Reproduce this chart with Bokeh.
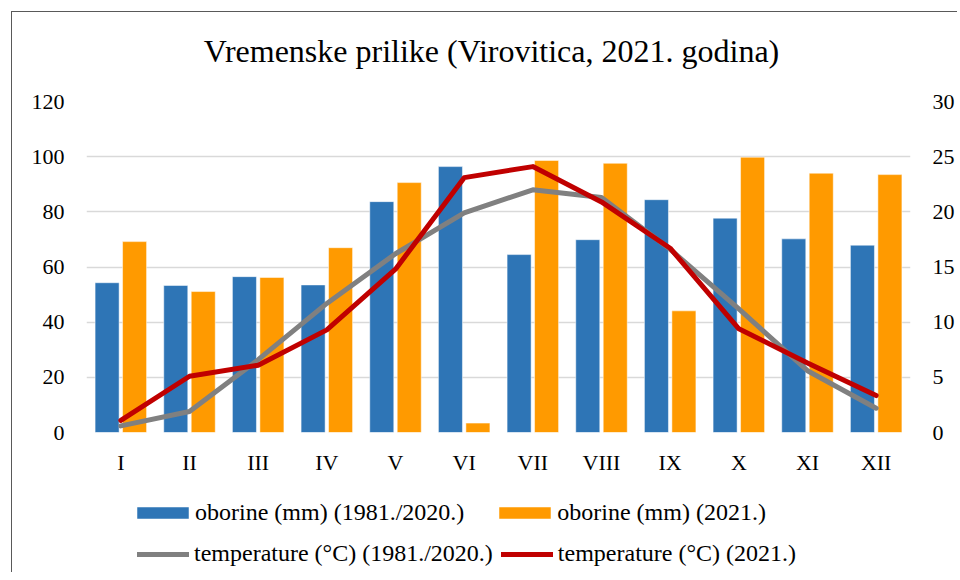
from bokeh.plotting import figure
from bokeh.models import Range1d, LinearAxis, FactorRange, Legend, LegendItem, FixedTicker, ColumnDataSource, Label
from bokeh.transform import dodge
from bokeh.layouts import column
from bokeh.embed import file_html
from bokeh.resources import INLINE

title_text = "Vremenske prilike (Virovitica, 2021. godina)"
months = ["I", "II", "III", "IV", "V", "VI", "VII", "VIII", "IX", "X", "XI", "XII"]
rain_norm = [54.3, 53.3, 56.5, 53.5, 83.7, 96.4, 64.5, 69.9, 84.4, 77.7, 70.2, 67.9]
rain_2021 = [69.2, 51.1, 56.2, 67.0, 90.6, 3.4, 98.6, 97.6, 44.1, 99.8, 94.0, 93.5]
temp_norm = [0.6, 1.9, 6.6, 11.7, 16.2, 19.9, 22.0, 21.3, 16.6, 11.2, 5.6, 2.2]
temp_2021 = [1.1, 5.1, 6.1, 9.3, 14.8, 23.1, 24.1, 20.9, 16.7, 9.4, 6.3, 3.35]
left_ticks = [0, 20, 40, 60, 80, 100, 120]
right_ticks = [0, 5, 10, 15, 20, 25, 30]
series_labels = ["oborine (mm) (1981./2020.)", "oborine (mm) (2021.)",
                 "temperature (°C) (1981./2020.)", "temperature (°C) (2021.)"]

FONT = "Liberation Serif"
BLUE, ORANGE, GRAY, RED = "#2E75B6", "#FF9A00", "#808080", "#C00000"

src = ColumnDataSource(dict(month=months, rn=rain_norm, r21=rain_2021, tn=temp_norm, t21=temp_2021))


def add_series(fig, y_range_name=None):
    kw = {} if y_range_name is None else {"y_range_name": y_range_name}
    r1 = fig.vbar(x=dodge("month", -0.2, range=fig.x_range), top="rn", width=0.35, source=src,
                  fill_color=BLUE, line_color="#FFFFFF", line_width=0.5)
    r2 = fig.vbar(x=dodge("month", 0.2, range=fig.x_range), top="r21", width=0.35, source=src,
                  fill_color=ORANGE, line_color="#FFFFFF", line_width=0.5)
    r3 = fig.line(x="month", y="tn", source=src, line_color=GRAY, line_width=5,
                  line_cap="round", line_join="round", **kw)
    r4 = fig.line(x="month", y="t21", source=src, line_color=RED, line_width=5,
                  line_cap="round", line_join="round", **kw)
    return r1, r2, r3, r4


# title strip
tf = figure(width=945, height=75, x_range=Range1d(0, 1), y_range=Range1d(0, 1),
            output_backend="svg", toolbar_location=None, min_border=0,
            x_axis_location=None, y_axis_location=None)
tf.grid.visible = False
tf.outline_line_color = None
tf.add_layout(Label(x=0.4915, y=0.4933, text=title_text, text_font=FONT, text_font_size="32px",
                    text_color="#000000", text_align="center", text_baseline="middle"))

# main chart
p = figure(x_range=FactorRange(*months), y_range=Range1d(0, 120),
           width=945, height=393, output_backend="svg", toolbar_location=None,
           min_border_left=74, min_border_right=47, min_border_top=14, min_border_bottom=48)
p.extra_y_ranges = {"temp": Range1d(0, 30)}
add_series(p, "temp")

p.outline_line_color = None
p.xgrid.grid_line_color = None
p.ygrid.grid_line_color = "#D9D9D9"
p.ygrid.grid_line_width = 1.5
p.yaxis.ticker = FixedTicker(ticks=left_ticks)

ra = LinearAxis(y_range_name="temp", ticker=FixedTicker(ticks=right_ticks))
p.add_layout(ra, "right")

for ax in [p.yaxis[0], ra, p.xaxis[0]]:
    ax.axis_line_color = None
    ax.major_tick_line_color = None
    ax.minor_tick_line_color = None
    ax.major_tick_out = 0
    ax.minor_tick_out = 0
    ax.major_label_text_font = FONT
    ax.major_label_text_font_size = "22px"
    ax.major_label_text_color = "#000000"
p.yaxis[0].major_label_standoff = 22
ra.major_label_standoff = 22
p.xaxis[0].major_label_standoff = 17

# legend strip: a second figure whose series lie outside its visible y range,
# so only the legend swatches show
lf = figure(width=945, height=92, x_range=FactorRange(*months), y_range=Range1d(500, 501),
            output_backend="svg", toolbar_location=None, min_border=0,
            x_axis_location=None, y_axis_location=None)
lf.grid.visible = False
lf.outline_line_color = None
g1, g2, g3, g4 = add_series(lf)


def make_legend(items, spacing, loc, gw, gh, standoff):
    lg = Legend(items=items, orientation="horizontal", location=loc)
    lg.label_text_font = FONT
    lg.label_text_font_size = "24px"
    lg.label_text_color = "#000000"
    lg.glyph_width = gw
    lg.glyph_height = gh
    lg.label_standoff = standoff
    lg.spacing = spacing
    lg.padding = 0
    lg.margin = 0
    lg.border_line_color = None
    lg.background_fill_alpha = 0
    return lg


leg1 = make_legend([LegendItem(label=series_labels[0], renderers=[g1]),
                    LegendItem(label=series_labels[1], renderers=[g2])], 28, (44, 46), 65, 15, 0)
leg2 = make_legend([LegendItem(label=series_labels[2], renderers=[g3]),
                    LegendItem(label=series_labels[3], renderers=[g4])], 8, (51, 5), 52, 12, 5)
lf.add_layout(leg1)
lf.add_layout(leg2)

layout = column(tf, p, lf, spacing=0)
layout.styles = {"border-left": "1px solid #595959", "border-top": "1px solid #595959",
                 "margin-left": "11px", "margin-top": "11px"}

open("out.html", "w").write(file_html(layout, INLINE))
